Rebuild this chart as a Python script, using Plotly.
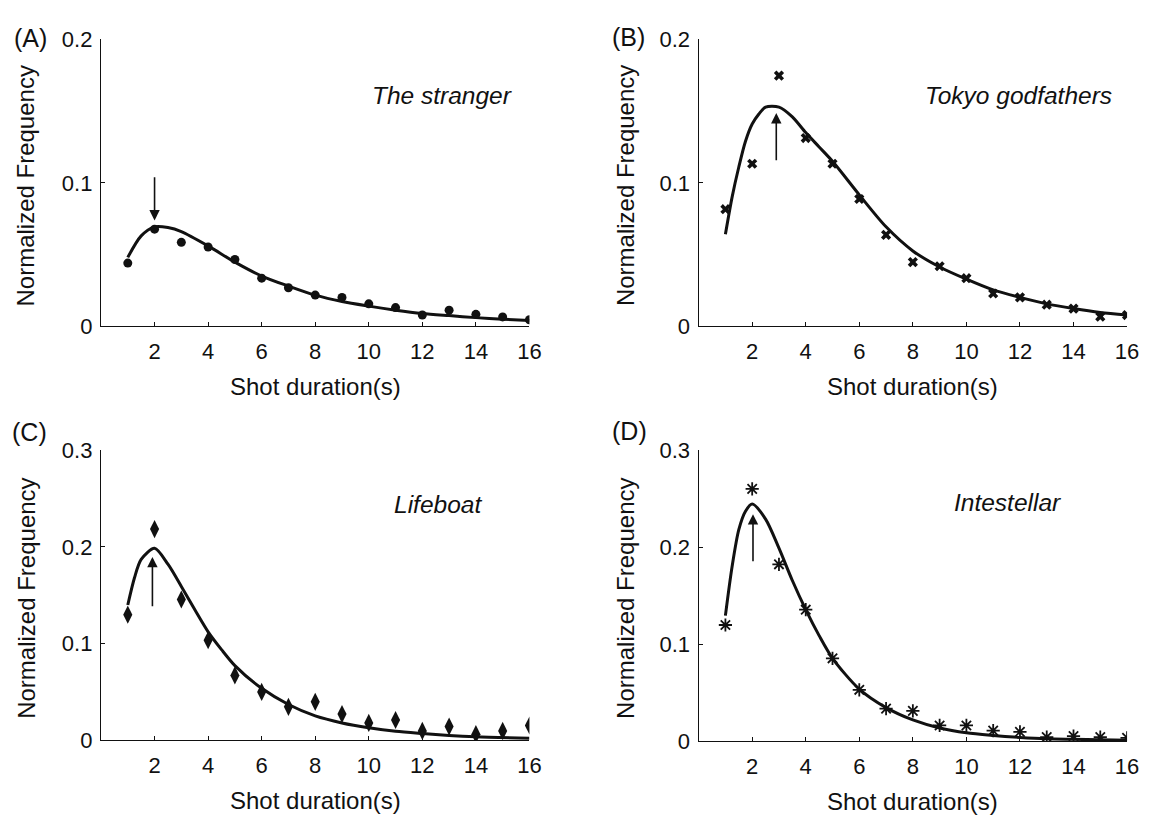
import plotly.graph_objects as go

# ---------------- data ----------------
durations = [1, 2, 3, 4, 5, 6, 7, 8, 9, 10, 11, 12, 13, 14, 15, 16]

stranger_pts = [0.044, 0.0677, 0.0585, 0.0552, 0.0465, 0.0335, 0.0268, 0.0217,
                0.0201, 0.0156, 0.013, 0.0078, 0.0112, 0.0083, 0.0065, 0.0045]
tokyo_pts = [0.0816, 0.1133, 0.1747, 0.1312, 0.1133, 0.0887, 0.0637, 0.0447,
             0.0418, 0.0335, 0.0228, 0.0201, 0.015, 0.0123, 0.0067, 0.0078]
lifeboat_pts = [0.1298, 0.2184, 0.1455, 0.1033, 0.0669, 0.0498, 0.0344, 0.0395,
                0.0268, 0.0177, 0.0207, 0.0094, 0.014, 0.006, 0.0094, 0.015]
interstellar_pts = [0.1197, 0.2602, 0.1823, 0.1355, 0.0853, 0.0528, 0.0334, 0.0311,
                    0.016, 0.016, 0.0107, 0.0094, 0.004, 0.005, 0.004, 0.0033]

# fitted curves
stranger_fit_x = [1, 1.5, 2, 2.5, 3, 4, 5, 6, 7, 8, 9, 10, 11, 12, 13, 14, 15, 16]
stranger_fit_y = [0.048, 0.063, 0.0693, 0.0688, 0.066, 0.056, 0.0447, 0.035, 0.028,
                  0.0217, 0.0172, 0.014, 0.0112, 0.0089, 0.0074, 0.006, 0.0049, 0.004]
tokyo_fit_x = [1, 1.25, 1.5, 1.75, 2, 2.25, 2.5, 3, 3.5, 4, 4.5, 5, 6, 7, 8, 9, 10, 11, 12, 13, 14, 15, 16]
tokyo_fit_y = [0.0641, 0.09, 0.111, 0.129, 0.141, 0.148, 0.1528, 0.1528, 0.146, 0.135, 0.125,
               0.115, 0.0916, 0.0693, 0.0525, 0.0413, 0.0328, 0.0253, 0.0201, 0.0156,
               0.0123, 0.0096, 0.0078]
lifeboat_fit_x = [1, 1.25, 1.5, 2, 2.5, 3, 3.5, 4, 4.5, 5, 6, 7, 8, 9, 10, 11, 12, 13, 14, 16]
lifeboat_fit_y = [0.1398, 0.168, 0.187, 0.1985, 0.182, 0.159, 0.135, 0.112, 0.0936,
                  0.077, 0.0535, 0.0368, 0.025, 0.0177, 0.0127, 0.009, 0.0067, 0.0047,
                  0.0033, 0.0017]
interstellar_fit_x = [1, 1.25, 1.5, 1.75, 2, 2.5, 3, 3.5, 4, 4.5, 5, 6, 7, 8, 9, 10, 11, 12, 13, 14, 16]
interstellar_fit_y = [0.1294, 0.18, 0.218, 0.237, 0.2445, 0.229, 0.199, 0.1656, 0.1355, 0.1087,
                      0.0853, 0.0535, 0.0344, 0.0217, 0.0134, 0.0084, 0.0057, 0.0037,
                      0.0023, 0.0017, 0.0007]

# arrows: (x, tail y, head y)
stranger_arrow = (2.0, 0.105, 0.0737)
tokyo_arrow = (2.9, 0.1146, 0.1486)
lifeboat_arrow = (1.92, 0.137, 0.1896)
interstellar_arrow = (2.03, 0.184, 0.234)

titles = ["The stranger", "Tokyo godfathers", "Lifeboat", "Intestellar"]
panel_labels = ["(A)", "(B)", "(C)", "(D)"]
x_ticks = [2, 4, 6, 8, 10, 12, 14, 16]
y_ticks_top = [0, 0.1, 0.2]
y_ticks_bottom = [0, 0.1, 0.2, 0.3]

# ---------------- figure ----------------
# page has an 8px body margin, so the figure is sized to fit the 1153x824 window
OFF = 8
W, H = 1153 - 2 * OFF, 824 - 2 * OFF
FONT = "Liberation Sans, Arial, sans-serif"
INK = "#111111"

def px_x(p):
    return (p - OFF) / W

def px_y(p):
    return 1 - (p - OFF) / H

panels = [
    dict(pts=stranger_pts, fx=stranger_fit_x, fy=stranger_fit_y, arrow=stranger_arrow,
         sym="circle", msize=9, mline=0, ymax=0.2, yt=y_ticks_top,
         xd=(102, 535), yd=(28, 324), title_pos=(12.75, 0.161), ytitle_x=26, lab=(12, 27)),
    dict(pts=tokyo_pts, fx=tokyo_fit_x, fy=tokyo_fit_y, arrow=tokyo_arrow,
         sym="x", msize=9, mline=0, ymax=0.2, yt=y_ticks_top,
         xd=(706, 1139), yd=(28, 324), title_pos=(11.95, 0.161), ytitle_x=632, lab=(616, 26)),
    dict(pts=lifeboat_pts, fx=lifeboat_fit_x, fy=lifeboat_fit_y, arrow=lifeboat_arrow,
         sym="diamond-tall", msize=13, mline=0, ymax=0.3, yt=y_ticks_bottom,
         xd=(102, 535), yd=(452, 751), title_pos=(12.6, 0.244), ytitle_x=26, lab=(10, 433)),
    dict(pts=interstellar_pts, fx=interstellar_fit_x, fy=interstellar_fit_y, arrow=interstellar_arrow,
         sym="asterisk-open", msize=11, mline=1.8, ymax=0.3, yt=y_ticks_bottom,
         xd=(706, 1139), yd=(452, 752), title_pos=(11.55, 0.2458), ytitle_x=632, lab=(616, 432)),
]

fig = go.Figure()
annotations = []
layout_axes = {}

for i, p in enumerate(panels):
    n = "" if i == 0 else str(i + 1)
    xa, ya = "x" + n, "y" + n

    fig.add_trace(go.Scatter(
        x=p["fx"], y=p["fy"], xaxis=xa, yaxis=ya, mode="lines",
        line=dict(color=INK, width=3, shape="spline", smoothing=0.8),
        showlegend=False, hoverinfo="skip"))
    fig.add_trace(go.Scatter(
        x=durations, y=p["pts"], xaxis=xa, yaxis=ya, mode="markers",
        marker=dict(symbol=p["sym"], size=p["msize"], color=INK,
                    line=dict(color=INK, width=p["mline"])),
        showlegend=False, name=titles[i]))

    layout_axes["xaxis" + n] = dict(
        domain=[px_x(p["xd"][0]), px_x(p["xd"][1])], anchor=ya,
        range=[0, 16], tickvals=x_ticks, ticks="inside", ticklen=4,
        tickcolor=INK, tickwidth=1, showline=True, linecolor=INK, linewidth=1.3,
        showgrid=False, zeroline=False, ticklabelstandoff=5,
        tickfont=dict(family=FONT, size=22, color=INK))
    layout_axes["yaxis" + n] = dict(
        domain=[px_y(p["yd"][1]), px_y(p["yd"][0])], anchor=xa,
        range=[0, p["ymax"]], tickvals=p["yt"], ticks="inside", ticklen=4,
        tickcolor=INK, tickwidth=1, showline=True, linecolor=INK, linewidth=1.3,
        showgrid=False, zeroline=False, ticklabelstandoff=3,
        tickfont=dict(family=FONT, size=22, color=INK))

    ax_, tail, head = p["arrow"]
    annotations.append(dict(
        x=ax_, y=head, ax=ax_, ay=tail, xref=xa, yref=ya, axref=xa, ayref=ya,
        text="", showarrow=True, arrowhead=2, arrowsize=1.3, arrowwidth=1.6,
        arrowcolor=INK))
    annotations.append(dict(
        x=p["title_pos"][0], y=p["title_pos"][1], xref=xa, yref=ya,
        text="<i>" + titles[i] + "</i>", showarrow=False,
        font=dict(family=FONT, size=24.5, color=INK), xanchor="center", yanchor="middle"))
    xc = (p["xd"][0] + p["xd"][1]) / 2
    annotations.append(dict(
        x=px_x(xc), y=px_y(p["yd"][1] + 62), xref="paper", yref="paper",
        text="Shot duration(s)", showarrow=False,
        font=dict(family=FONT, size=24, color=INK), xanchor="center", yanchor="middle"))
    yc = (p["yd"][0] + p["yd"][1]) / 2 + 3
    annotations.append(dict(
        x=px_x(p["ytitle_x"]), y=px_y(yc), xref="paper", yref="paper",
        text="Normalized Frequency", showarrow=False, textangle=-90,
        font=dict(family=FONT, size=24, color=INK), xanchor="center", yanchor="middle"))
    annotations.append(dict(
        x=px_x(p["lab"][0]), y=px_y(p["lab"][1]), xref="paper", yref="paper",
        text=panel_labels[i], showarrow=False,
        font=dict(family=FONT, size=25, color=INK), xanchor="left", yanchor="middle"))

fig.update_layout(
    width=W, height=H, margin=dict(l=0, r=0, t=0, b=0),
    paper_bgcolor="white", plot_bgcolor="white",
    annotations=annotations, **layout_axes)

fig.write_html("out.html", config={"displayModeBar": False})
